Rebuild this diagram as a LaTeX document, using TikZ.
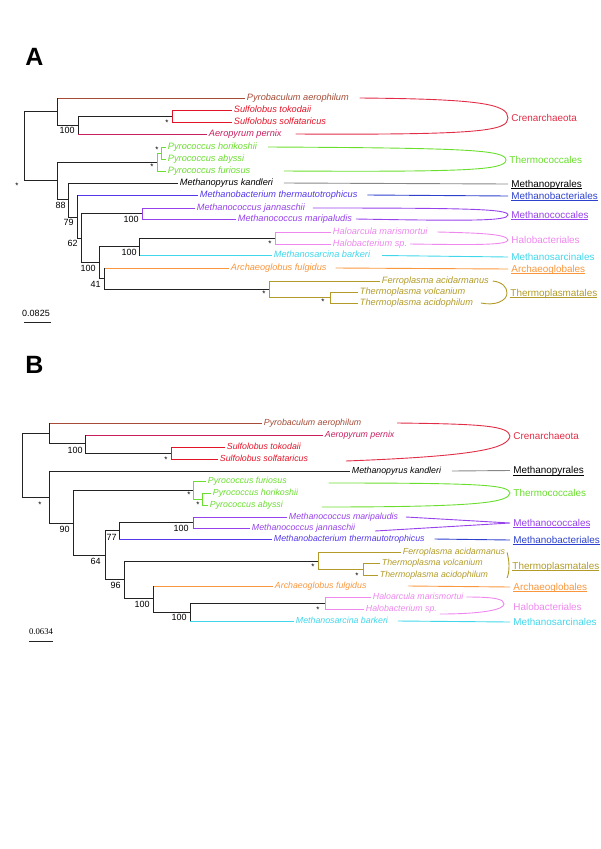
\documentclass[tikz,border=0pt]{standalone}
\usepackage{fontspec}
\setmainfont{Liberation Sans}
\newfontfamily\barfont{Liberation Serif}
\usepackage{xcolor}
\usetikzlibrary{calc, positioning}

\definecolor{pyrocol}{RGB}{165,75,55}
\definecolor{sulfcol}{RGB}{228,20,40}
\definecolor{aerocol}{RGB}{200,30,95}
\definecolor{crencol}{RGB}{226,45,70}
\definecolor{thcocol}{RGB}{105,222,45}
\definecolor{graycol}{RGB}{135,135,135}
\definecolor{mbaccol}{RGB}{85,55,235}
\definecolor{mbalcol}{RGB}{45,65,205}
\definecolor{mcoccol}{RGB}{150,65,235}
\definecolor{halocol}{RGB}{238,135,238}
\definecolor{msarcol}{RGB}{65,215,235}
\definecolor{archcol}{RGB}{250,150,60}
\definecolor{tplacol}{RGB}{178,155,40}
\definecolor{branchcol}{RGB}{35,35,35}

\newcommand\grpunder[1]{\setbox0\hbox{#1}\rlap{\rule[-1.8pt]{\wd0}{0.55pt}}\box0}

\begin{document}
\begin{tikzpicture}[x=1pt, y=-1pt, line width=0.9pt]
		\tikzstyle{taxon} = [anchor=west, inner sep=1.5pt, font=\fontsize{9.2}{11}\selectfont\itshape, text height=6.8pt, text depth=2pt]
		\tikzstyle{taxonb} = [taxon, font=\fontsize{8.8}{10.5}\selectfont\itshape]
		\tikzstyle{grplabel} = [anchor=west, inner sep=3pt, font=\fontsize{9.9}{12}\selectfont, text height=8pt, text depth=2pt]
		\tikzstyle{boot} = [anchor=north east, inner sep=0pt, font=\fontsize{9}{10}\selectfont]
		\tikzstyle{supp} = [anchor=center, inner sep=0pt, yshift=-1.7pt, font=\fontsize{8}{9}\selectfont]
		\tikzstyle{branch} = [draw=branchcol]
		\tikzstyle{panel} = [font=\fontsize{25}{25}\selectfont\bfseries]

		\useasboundingbox (0,0) rectangle (600,849);

		% ---- panel A ----
		\node[panel] at (34.5,56.5) (labA) {A};

		\coordinate (rA) at (24,146);
		\coordinate (a1) at (57,111.5);
		\coordinate (a2) at (78,125);
		\coordinate (a3) at (172,116);
		\coordinate (a4) at (57,180.5);
		\coordinate (thA) at (157,162);
		\coordinate (thA2) at (161,153);
		\coordinate (a5) at (68,199.5);
		\coordinate (a6) at (77,217);
		\coordinate (a7) at (81,238);
		\coordinate (mcA) at (142,213.5);
		\coordinate (a9) at (99,262.5);
		\coordinate (a10) at (139,246.5);
		\coordinate (haA) at (275,238);
		\coordinate (a11) at (104,278.5);
		\coordinate (tpA) at (269,289);
		\coordinate (tpA2) at (330,297.5);

		\node[taxon, pyrocol]	at (245,98)		(pyrA)	{Pyrobaculum aerophilum};
		\node[taxon, sulfcol]	at (232,110)	(sotA)	{Sulfolobus tokodaii};
		\node[taxon, sulfcol]	at (232,122)	(sosA)	{Sulfolobus solfataricus};
		\node[taxon, aerocol]	at (207,134)	(aerA)	{Aeropyrum pernix};
		\node[taxon, thcocol]	at (166,147)	(horA)	{Pyrococcus horikoshii};
		\node[taxon, thcocol]	at (166,159)	(abyA)	{Pyrococcus abyssi};
		\node[taxon, thcocol]	at (166,171)	(furA)	{Pyrococcus furiosus};
		\node[taxon]			at (178,183)	(kanA)	{Methanopyrus kandleri};
		\node[taxon, mbaccol]	at (198,195)	(mthA)	{Methanobacterium thermautotrophicus};
		\node[taxon, mcoccol]	at (195,208)	(janA)	{Methanococcus jannaschii};
		\node[taxon, mcoccol]	at (236,219)	(marA)	{Methanococcus maripaludis};
		\node[taxon, halocol]	at (331,232)	(hmaA)	{Haloarcula marismortui};
		\node[taxon, halocol]	at (331,244)	(hspA)	{Halobacterium sp.};
		\node[taxon, msarcol]	at (272,255.5)	(barA)	{Methanosarcina barkeri};
		\node[taxon, archcol]	at (229,268)	(fulA)	{Archaeoglobus fulgidus};
		\node[taxon, tplacol]	at (380,281)	(ferA)	{Ferroplasma acidarmanus};
		\node[taxon, tplacol]	at (358,292)	(volA)	{Thermoplasma volcanium};
		\node[taxon, tplacol]	at (358,303)	(acdA)	{Thermoplasma acidophilum};

		\node[grplabel, crencol]	at (508,118)	(crenA)	{Crenarchaeota};
		\node[grplabel, thcocol]	at (506,160)	(thcA)	{Thermococcales};
		\node[grplabel]			at (508,184)	(mpyA)	{\grpunder{Methanopyrales}};
		\node[grplabel, mbalcol]	at (508,196)	(mbaA)	{\grpunder{Methanobacteriales}};
		\node[grplabel, mcoccol]	at (508,215)	(mccA)	{\grpunder{Methanococcales}};
		\node[grplabel, halocol]	at (508,240)	(halA)	{Halobacteriales};
		\node[grplabel, msarcol]	at (508,257)	(msaA)	{Methanosarcinales};
		\node[grplabel, archcol]	at (508,269)	(argA)	{\grpunder{Archaeoglobales}};
		\node[grplabel, tplacol]	at (507,293)	(tplA)	{\grpunder{Thermoplasmatales}};

		\draw [branch] (rA) |- (a1);
		\draw [branch] (rA) |- (a4);
		\draw [pyrocol] (a1) |- (pyrA.west);
		\draw [branch] (a1) |- (a2);
		\draw [branch] (a2) |- (a3);
		\draw [aerocol] (a2) |- (aerA.west);
		\draw [sulfcol] (a3) |- (sotA.west);
		\draw [sulfcol] (a3) |- (sosA.west);
		\draw [branch] (a4) |- (thA);
		\draw [branch] (a4) |- (a5);
		\draw [thcocol] (thA) |- (thA2);
		\draw [thcocol] (thA) |- (furA.west);
		\draw [thcocol] (thA2) |- (horA.west);
		\draw [thcocol] (thA2) |- (abyA.west);
		\draw [branch] (a5) |- (kanA.west);
		\draw [branch] (a5) |- (a6);
		\draw [mbaccol] (a6) |- (mthA.west);
		\draw [branch] (a6) |- (a7);
		\draw [branch] (a7) |- (mcA);
		\draw [branch] (a7) |- (a9);
		\draw [mcoccol] (mcA) |- (janA.west);
		\draw [mcoccol] (mcA) |- (marA.west);
		\draw [branch] (a9) |- (a10);
		\draw [branch] (a9) |- (a11);
		\draw [branch] (a10) |- (haA);
		\draw [msarcol] (a10) |- (barA.west);
		\draw [halocol] (haA) |- (hmaA.west);
		\draw [halocol] (haA) |- (hspA.west);
		\draw [archcol] (a11) |- (fulA.west);
		\draw [branch] (a11) |- (tpA);
		\draw [tplacol] (tpA) |- (ferA.west);
		\draw [tplacol] (tpA) |- (tpA2);
		\draw [tplacol] (tpA2) |- (volA.west);
		\draw [tplacol] (tpA2) |- (acdA.west);
		\foreach \n/\m in {a1/pyrA, a2/aerA, a6/mthA, a10/barA, a11/fulA}
			\draw [branch] (\n) -- (\n |- \m.west);

		\node[boot]	at ($(a2)+(-3,2)$)		(bA2)	{100};
		\node[boot]	at ($(a5)+(-2,2)$)		(bA5)	{88};
		\node[boot]	at ($(a6)+(-3,2)$)		(bA6)	{79};
		\node[boot]	at ($(a7)+(-3,2)$)		(bA7)	{62};
		\node[boot]	at ($(mcA)+(-3,2)$)		(bmcA)	{100};
		\node[boot]	at ($(a9)+(-3,2.5)$)	(bA9)	{100};
		\node[boot]	at ($(a10)+(-2,2)$)		(bA10)	{100};
		\node[boot]	at ($(a11)+(-3,2.5)$)	(bA11)	{41};

		\node[supp]	at ($(a3)+(-5,5)$)		(sA3)	{*};
		\node[supp]	at ($(a4)+(-40,3.5)$)	(sA4)	{*};
		\node[supp]	at ($(thA)+(-5,3)$)		(sthA)	{*};
		\node[supp]	at ($(thA2)+(-4,-5)$)	(sthA2)	{*};
		\node[supp]	at ($(haA)+(-5,4)$)		(shaA)	{*};
		\node[supp]	at ($(tpA)+(-5,3)$)		(stpA)	{*};
		\node[supp]	at ($(tpA2)+(-7,2.5)$)	(stpA2)	{*};

		\draw [crencol] ([xshift=9pt]pyrA.east) .. controls (480,99) and (508,104) .. (crenA.west) .. controls (508,131) and (480,135) .. ([xshift=12pt]aerA.east);
		\draw [thcocol] ([xshift=9pt]horA.east) .. controls (470,148) and (505,150) .. (thcA.west) .. controls (505,170) and (470,172) .. ([xshift=32pt]furA.east);
		\draw [graycol] ([xshift=9pt]kanA.east) -- (mpyA.west);
		\draw [mbalcol] ([xshift=8pt]mthA.east) -- (mbaA.west);
		\draw [mcoccol] ([xshift=6pt]janA.east) .. controls (470,208) and (508,209) .. (mccA.west) .. controls (508,221) and (470,221) .. ([xshift=2pt]marA.east);
		\draw [halocol] ([xshift=8pt]hmaA.east) .. controls (480,233) and (507,234) .. (halA.west) .. controls (507,245) and (480,245) .. ([xshift=1pt]hspA.east);
		\draw [msarcol] ([xshift=10pt]barA.east) -- (msaA.west);
		\draw [archcol] ([xshift=7pt]fulA.east) -- (argA.west);
		\draw [tplacol] ([xshift=2pt]ferA.east) .. controls (502,282) and (507,287) .. (tplA.west) .. controls (507,301) and (495,306) .. ([xshift=6pt]acdA.east);

		\node[font=\fontsize{9}{10}\selectfont] at (36,313) (sclA) {0.0825};
		\coordinate (sclAl) at (24,322);
		\coordinate (sclAr) at (51,322);
		\draw [branch] (sclAl) -- (sclAr);

		% ---- panel B ----
		\node[panel] at (34.5,364.5) (labB) {B};

		\coordinate (rB) at (22,465.5);
		\coordinate (b1) at (49,433.5);
		\coordinate (b2) at (85,443.5);
		\coordinate (b3) at (171,453);
		\coordinate (b4) at (49,497);
		\coordinate (b5) at (73,523);
		\coordinate (thB) at (193,490);
		\coordinate (thB2) at (202,499);
		\coordinate (b6) at (105,555);
		\coordinate (b7) at (119,530.5);
		\coordinate (mcB) at (193,522.5);
		\coordinate (b9) at (124,579.5);
		\coordinate (tpB) at (318,561);
		\coordinate (tpB2) at (363,569);
		\coordinate (b11) at (153,598.5);
		\coordinate (b13) at (190,612);
		\coordinate (haB) at (325,603);

		\node[taxonb, pyrocol]	at (262,423)	(pyrB)	{Pyrobaculum aerophilum};
		\node[taxonb, aerocol]	at (323,435)	(aerB)	{Aeropyrum pernix};
		\node[taxonb, sulfcol]	at (225,447)	(sotB)	{Sulfolobus tokodaii};
		\node[taxonb, sulfcol]	at (218,459)	(sosB)	{Sulfolobus solfataricus};
		\node[taxonb]			at (350,471)	(kanB)	{Methanopyrus kandleri};
		\node[taxonb, thcocol]	at (206,481)	(furB)	{Pyrococcus furiosus};
		\node[taxonb, thcocol]	at (211,493)	(horB)	{Pyrococcus horikoshii};
		\node[taxonb, thcocol]	at (208,505)	(abyB)	{Pyrococcus abyssi};
		\node[taxonb, mcoccol]	at (287,517)	(marB)	{Methanococcus maripaludis};
		\node[taxonb, mcoccol]	at (250,528)	(janB)	{Methanococcus jannaschii};
		\node[taxonb, mbaccol]	at (272,539)	(mthB)	{Methanobacterium thermautotrophicus};
		\node[taxonb, tplacol]	at (401,552.5)	(ferB)	{Ferroplasma acidarmanus};
		\node[taxonb, tplacol]	at (380,563)	(volB)	{Thermoplasma volcanium};
		\node[taxonb, tplacol]	at (378,575)	(acdB)	{Thermoplasma acidophilum};
		\node[taxonb, archcol]	at (273,586)	(fulB)	{Archaeoglobus fulgidus};
		\node[taxonb, halocol]	at (371,597)	(hmaB)	{Haloarcula marismortui};
		\node[taxonb, halocol]	at (364,609)	(hspB)	{Halobacterium sp.};
		\node[taxonb, msarcol]	at (294,621)	(barB)	{Methanosarcina barkeri};

		\node[grplabel, crencol]	at (510,436)	(crenB)	{Crenarchaeota};
		\node[grplabel]			at (510,470.5)	(mpyB)	{\grpunder{Methanopyrales}};
		\node[grplabel, thcocol]	at (510,493)	(thcB)	{Thermococcales};
		\node[grplabel, mcoccol]	at (510,523)	(mccB)	{\grpunder{Methanococcales}};
		\node[grplabel, mbalcol]	at (510,540)	(mbaB)	{\grpunder{Methanobacteriales}};
		\node[grplabel, tplacol]	at (509,566)	(tplB)	{\grpunder{Thermoplasmatales}};
		\node[grplabel, archcol]	at (510,587)	(argB)	{\grpunder{Archaeoglobales}};
		\node[grplabel, halocol]	at (510,607)	(halB)	{Halobacteriales};
		\node[grplabel, msarcol]	at (510,622)	(msaB)	{Methanosarcinales};

		\draw [branch] (rB) |- (b1);
		\draw [branch] (rB) |- (b4);
		\draw [pyrocol] (b1) |- (pyrB.west);
		\draw [branch] (b1) |- (b2);
		\draw [aerocol] (b2) |- (aerB.west);
		\draw [branch] (b2) |- (b3);
		\draw [sulfcol] (b3) |- (sotB.west);
		\draw [sulfcol] (b3) |- (sosB.west);
		\draw [branch] (b4) |- (kanB.west);
		\draw [branch] (b4) |- (b5);
		\draw [branch] (b5) |- (thB);
		\draw [branch] (b5) |- (b6);
		\draw [thcocol] (thB) |- (furB.west);
		\draw [thcocol] (thB) |- (thB2);
		\draw [thcocol] (thB2) |- (horB.west);
		\draw [thcocol] (thB2) |- (abyB.west);
		\draw [branch] (b6) |- (b7);
		\draw [branch] (b6) |- (b9);
		\draw [branch] (b7) |- (mcB);
		\draw [mbaccol] (b7) |- (mthB.west);
		\draw [mcoccol] (mcB) |- (marB.west);
		\draw [mcoccol] (mcB) |- (janB.west);
		\draw [branch] (b9) |- (tpB);
		\draw [branch] (b9) |- (b11);
		\draw [tplacol] (tpB) |- (ferB.west);
		\draw [tplacol] (tpB) |- (tpB2);
		\draw [tplacol] (tpB2) |- (volB.west);
		\draw [tplacol] (tpB2) |- (acdB.west);
		\draw [archcol] (b11) |- (fulB.west);
		\draw [branch] (b11) |- (b13);
		\draw [branch] (b13) |- (haB);
		\draw [msarcol] (b13) |- (barB.west);
		\draw [halocol] (haB) |- (hmaB.west);
		\draw [halocol] (haB) |- (hspB.west);
		\foreach \n/\m in {b1/pyrB, b2/aerB, b7/mthB, b11/fulB, b13/barB}
			\draw [branch] (\n) -- (\n |- \m.west);

		\node[boot]	at ($(b2)+(-2,3)$)		(bB2)	{100};
		\node[boot]	at ($(b5)+(-3,3)$)		(bB5)	{90};
		\node[boot]	at ($(b7)+(-2,3.5)$)	(bB7)	{77};
		\node[boot]	at ($(b6)+(-4,3)$)		(bB6)	{64};
		\node[boot]	at ($(mcB)+(-4,2.5)$)	(bmcB)	{100};
		\node[boot]	at ($(b9)+(-3,2.5)$)	(bB9)	{96};
		\node[boot]	at ($(b11)+(-3,2.5)$)	(bB11)	{100};
		\node[boot]	at ($(b13)+(-3,2)$)		(bB13)	{100};

		\node[supp]	at ($(b3)+(-5,5)$)		(sB3)	{*};
		\node[supp]	at ($(b4)+(-9,6)$)		(sB4)	{*};
		\node[supp]	at ($(thB)+(-4,3)$)		(sthB)	{*};
		\node[supp]	at ($(thB2)+(-4,4)$)	(sthB2)	{*};
		\node[supp]	at ($(tpB)+(-5,4)$)		(stpB)	{*};
		\node[supp]	at ($(tpB2)+(-6,5)$)	(stpB2)	{*};
		\node[supp]	at ($(haB)+(-7,5)$)		(shaB)	{*};

		\draw [crencol] ([xshift=34pt]pyrB.east) .. controls (485,424) and (508,426) .. (crenB.west) .. controls (508,448) and (480,456) .. ([xshift=36pt,yshift=-2pt]sosB.east);
		\draw [graycol] ([xshift=9pt]kanB.east) -- (mpyB.west);
		\draw [thcocol] ([xshift=40pt,yshift=-2pt]furB.east) .. controls (485,483) and (508,485) .. (thcB.west) .. controls (508,502) and (485,507) .. ([xshift=37pt,yshift=-2pt]abyB.east);
		\draw [mcoccol] ([xshift=6pt]marB.east) -- (mccB.west) -- ([xshift=18pt,yshift=-3pt]janB.east);
		\draw [mbalcol] ([xshift=8pt]mthB.east) -- (mbaB.west);
		\draw [tplacol] (ferB.east) .. controls (508,556) and (509,561) .. (tplB.west) .. controls (509,572) and (508,576) .. ([xshift=17pt,yshift=-3pt]acdB.east);
		\draw [archcol] ([xshift=40pt]fulB.east) -- (argB.west);
		\draw [halocol] ([xshift=1pt]hmaB.east) .. controls (495,597) and (504,599) .. ([xshift=-6pt,yshift=3pt]halB.west) .. controls (504,610) and (480,614) .. ([xshift=1pt,yshift=-5pt]hspB.east);
		\draw [msarcol] ([xshift=8pt]barB.east) -- (msaB.west);

		\node[font=\barfont\fontsize{8.7}{10}\selectfont] at (41,632) (sclB) {0.0634};
		\coordinate (sclBl) at (29,641);
		\coordinate (sclBr) at (53,641);
		\draw [branch] (sclBl) -- (sclBr);
	\end{tikzpicture}
\end{document}
